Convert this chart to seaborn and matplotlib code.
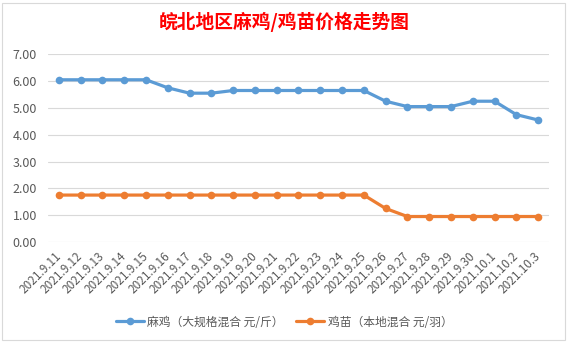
import matplotlib
matplotlib.use("Agg")
import matplotlib.pyplot as plt
import seaborn as sns
import pandas as pd
from matplotlib.patches import Rectangle

dates = ["2021.9.11", "2021.9.12", "2021.9.13", "2021.9.14", "2021.9.15", "2021.9.16",
         "2021.9.17", "2021.9.18", "2021.9.19", "2021.9.20", "2021.9.21", "2021.9.22",
         "2021.9.23", "2021.9.24", "2021.9.25", "2021.9.26", "2021.9.27", "2021.9.28",
         "2021.9.29", "2021.9.30", "2021.10.1", "2021.10.2", "2021.10.3"]
ma_ji = [6.05, 6.05, 6.05, 6.05, 6.05, 5.75, 5.55, 5.55, 5.65, 5.65, 5.65, 5.65,
         5.65, 5.65, 5.65, 5.25, 5.05, 5.05, 5.05, 5.25, 5.25, 4.75, 4.55]
ji_miao = [1.75, 1.75, 1.75, 1.75, 1.75, 1.75, 1.75, 1.75, 1.75, 1.75, 1.75, 1.75,
           1.75, 1.75, 1.75, 1.25, 0.95, 0.95, 0.95, 0.95, 0.95, 0.95, 0.95]
series_names = ["麻鸡（大规格混合 元/斤）", "鸡苗（本地混合 元/羽）"]
title = "皖北地区麻鸡/鸡苗价格走势图"
yticks = [0, 1, 2, 3, 4, 5, 6, 7]

sns.set_theme(style="white")
plt.rcParams['font.family'] = ['Noto Sans CJK SC', 'DejaVu Sans']

rows = []
for i, d in enumerate(dates):
    rows.append({"idx": i, "date": d, "price": ma_ji[i], "series": series_names[0]})
for i, d in enumerate(dates):
    rows.append({"idx": i, "date": d, "price": ji_miao[i], "series": series_names[1]})
df = pd.DataFrame(rows)

fig = plt.figure(figsize=(5.68, 3.42), dpi=100)
ax = fig.add_axes([48/568, 1-242/342, 501/568, (242-54.3)/342])

palette = {series_names[0]: "#5B9BD5", series_names[1]: "#ED7D31"}
sns.lineplot(data=df, x="idx", y="price", hue="series", palette=palette,
             marker="o", markersize=5.5, markeredgewidth=0, linewidth=2.3,
             sort=False, ax=ax, legend=True)

ax.set_xlim(-0.5, len(dates) - 0.5)
ax.set_ylim(0, 7)
ax.set_yticks(yticks)
ax.set_yticklabels([f"{v:.2f}" for v in yticks], fontsize=9, color="#595959")
ax.set_xticks(range(len(dates)))
ax.set_xticklabels(dates, rotation=45, ha="right", va="center",
                   rotation_mode="anchor", fontsize=8.5, color="#595959")
ax.tick_params(axis="x", length=0, pad=9)
ax.tick_params(axis="y", length=0, pad=8)
ax.set_xlabel("")
ax.set_ylabel("")
ax.grid(axis="y", color="#D9D9D9", linewidth=0.8)
ax.grid(axis="x", visible=False)
for s in ax.spines.values():
    s.set_visible(False)

handles, labels = ax.get_legend_handles_labels()
ax.get_legend().remove()
fig.legend(handles, labels, loc="center", bbox_to_anchor=(0.5, 1-322/342),
           ncol=2, frameon=False, fontsize=8.5, handlelength=2.4,
           columnspacing=1.0, handletextpad=0.3, labelcolor="#595959")

fig.text(0.5, 1-22/342, title, ha="center", va="center", fontsize=13.5,
         fontweight="bold", color="#FF0000")

fig.patches.append(Rectangle((2/568, 2/342), 1-5/568, 1-5/342, transform=fig.transFigure,
                             fill=False, edgecolor="#D9D9D9", linewidth=0.8))

fig.savefig("out.png", dpi=100, facecolor="white")
